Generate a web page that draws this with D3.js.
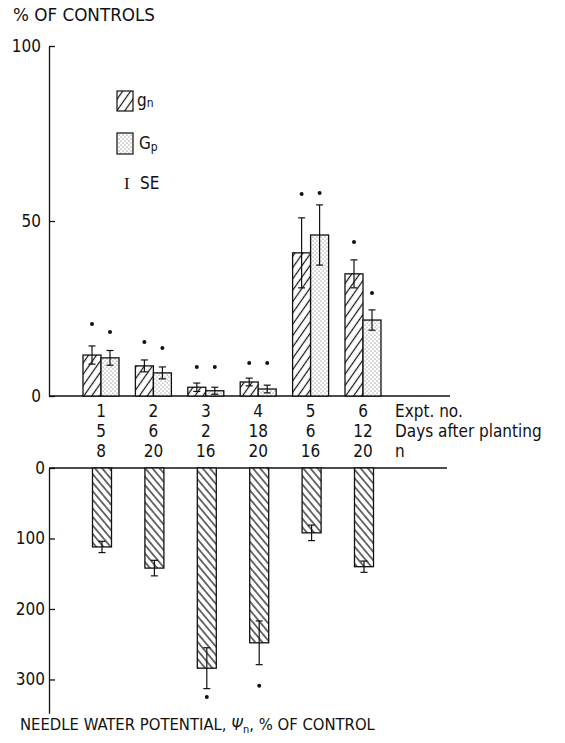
<!DOCTYPE html>
<html>
<head>
<meta charset="utf-8">
<script src="https://cdn.jsdelivr.net/npm/d3@7"></script>
<style>
body { margin: 0; background: #fff; }
text { font-family: "Liberation Sans Narrow", "DejaVu Sans Condensed", sans-serif; fill: #111; }
</style>
</head>
<body>
<div id="corpo"></div>
<script>
// table rows under the upper panel
var expt = ["1", "2", "3", "4", "5", "6"];
var days = ["5", "6", "2", "18", "6", "12"];
var nobs = ["8", "20", "16", "20", "16", "20"];
var rowNames = ["Expt. no.", "Days after planting", "n"];

// upper panel, % of controls
var gn = [11.7, 8.6, 2.5, 4.0, 40.9, 34.9];
var gnSE = [2.6, 1.7, 1.2, 1.1, 10.0, 4.0];
var Gp = [10.9, 6.6, 1.5, 2.0, 46.0, 21.7];
var GpSE = [2.1, 1.7, 1.0, 1.1, 8.6, 2.9];
var gnStar = [20.6, 15.4, 8.3, 9.4, 57.7, 44.0];
var GpStar = [18.3, 13.7, 8.3, 9.4, 58.0, 29.4];
var topTicks = [0, 50, 100];

// lower panel, needle water potential
var psi = [112, 142, 284, 248, 92, 140];
var psiSE = [8, 11, 29, 31, 11, 8];
var psiStar = [null, null, 325, 309, null, null];
var botTicks = [0, 100, 200, 300];

var width = 565, height = 743;

var svg = d3.select("#corpo").append("svg")
    .attr("width", width)
    .attr("height", height);

var defs = svg.append("defs");

function hatch(id, size, angle){
    var p = defs.append("pattern")
        .attr("id", id)
        .attr("patternUnits", "userSpaceOnUse")
        .attr("width", size).attr("height", size)
        .attr("patternTransform", "rotate(" + angle + ")");
    p.append("rect").attr("width", size).attr("height", size).attr("fill", "#fff");
    p.append("line")
        .attr("x1", size / 2).attr("y1", 0)
        .attr("x2", size / 2).attr("y2", size)
        .attr("stroke", "#111").attr("stroke-width", 1.2);
}
hatch("hatchUp", 6.5, 35);
hatch("hatchDown", 5.5, -40);

var dots = defs.append("pattern")
    .attr("id", "dots")
    .attr("patternUnits", "userSpaceOnUse")
    .attr("width", 4).attr("height", 4);
dots.append("rect").attr("width", 4).attr("height", 4).attr("fill", "#fff");
dots.append("circle").attr("cx", 1).attr("cy", 1).attr("r", 0.55).attr("fill", "#555");
dots.append("circle").attr("cx", 3).attr("cy", 3).attr("r", 0.55).attr("fill", "#555");

var x = d3.scalePoint().domain(expt).range([101, 363]);
var barW = 18;

var yTop = d3.scaleLinear().domain([0, 100]).range([396, 46]);
var yBot = d3.scaleLinear().domain([0, 348]).range([468, 713.3]);

// axes, ticks pointing inwards
svg.append("g")
    .attr("transform", "translate(49,0)")
    .call(d3.axisLeft(yTop).tickValues(topTicks).tickSize(-6).tickSizeOuter(0).tickPadding(8))
    .call(styleAxis);

svg.append("g")
    .attr("transform", "translate(49,0)")
    .call(d3.axisLeft(yBot).tickValues(botTicks).tickSize(-6).tickSizeOuter(0).tickPadding(4))
    .call(styleAxis);

function styleAxis(g){
    g.selectAll("path, line").attr("stroke", "#111").attr("stroke-width", 1.3);
    g.selectAll("text")
        .style("font-size", "17px")
        .style("font-family", "'Liberation Sans Narrow', 'DejaVu Sans Condensed', sans-serif")
        .attr("fill", "#111");
}

// baselines
svg.append("line")
    .attr("x1", 49).attr("x2", 450)
    .attr("y1", yTop(0)).attr("y2", yTop(0))
    .attr("stroke", "#111").attr("stroke-width", 1.3);
svg.append("line")
    .attr("x1", 49).attr("x2", 447)
    .attr("y1", yBot(0)).attr("y2", yBot(0))
    .attr("stroke", "#111").attr("stroke-width", 1.3);

function errBar(g, cx, y1, y2){
    g.append("line").attr("x1", cx).attr("x2", cx).attr("y1", y1).attr("y2", y2)
        .attr("stroke", "#111").attr("stroke-width", 1.2);
    [y1, y2].forEach(function(yy){
        g.append("line").attr("x1", cx - 3.5).attr("x2", cx + 3.5).attr("y1", yy).attr("y2", yy)
            .attr("stroke", "#111").attr("stroke-width", 1.2);
    });
}

// upper bars
function bars(values, errs, stars, dx, fill){
    var g = svg.append("g");
    values.forEach(function(v, i){
        var cx = x(expt[i]) + dx;
        g.append("rect")
            .attr("x", cx - barW / 2).attr("y", yTop(v))
            .attr("width", barW).attr("height", yTop(0) - yTop(v))
            .attr("fill", fill).attr("stroke", "#111").attr("stroke-width", 1.3);
        errBar(g, cx, yTop(v - errs[i]), yTop(v + errs[i]));
        if (stars[i] != null) {
            g.append("circle").attr("cx", cx).attr("cy", yTop(stars[i])).attr("r", 2).attr("fill", "#111");
        }
    });
}

bars(gn, gnSE, gnStar, -barW / 2, "url(#hatchUp)");
bars(Gp, GpSE, GpStar, barW / 2, "url(#dots)");

// lower bars
var gb = svg.append("g");
psi.forEach(function(v, i){
    var cx = x(expt[i]) + 1;
    gb.append("rect")
        .attr("x", cx - 9.5).attr("y", yBot(0))
        .attr("width", 19).attr("height", yBot(v) - yBot(0))
        .attr("fill", "url(#hatchDown)").attr("stroke", "#111").attr("stroke-width", 1.3);
    errBar(gb, cx, yBot(v - psiSE[i]), yBot(v + psiSE[i]));
    if (psiStar[i] != null) {
        gb.append("circle").attr("cx", cx).attr("cy", yBot(psiStar[i])).attr("r", 2).attr("fill", "#111");
    }
});

// table rows between the panels
var rows = [expt, days, nobs];
rows.forEach(function(r, j){
    var yy = 417 + j * 20;
    svg.append("g").selectAll("text")
        .data(r).enter().append("text")
        .attr("x", function(d, i){ return x(expt[i]); })
        .attr("y", yy)
        .attr("text-anchor", "middle")
        .style("font-size", "17px")
        .text(function(d){ return d; });
    svg.append("text")
        .attr("x", 395).attr("y", yy)
        .style("font-size", "17px")
        .text(rowNames[j]);
});

// legend
svg.append("rect").attr("x", 117).attr("y", 91).attr("width", 16).attr("height", 20)
    .attr("fill", "url(#hatchUp)").attr("stroke", "#111").attr("stroke-width", 1.2);
svg.append("text").attr("x", 137).attr("y", 106).style("font-size", "17px")
    .html("g<tspan font-size='12px' dy='1'>n</tspan>");
svg.append("rect").attr("x", 117).attr("y", 133).attr("width", 16).attr("height", 21)
    .attr("fill", "url(#dots)").attr("stroke", "#111").attr("stroke-width", 1.2);
svg.append("text").attr("x", 139).attr("y", 149).style("font-size", "17px")
    .html("G<tspan font-size='12px' dy='2'>p</tspan>");
svg.append("text").attr("x", 124).attr("y", 189).style("font-size", "17px")
    .style("font-family", "'Liberation Serif', serif").text("I");
svg.append("text").attr("x", 140).attr("y", 189).style("font-size", "17px").text("SE");

// titles
svg.append("text").attr("x", 13).attr("y", 21)
    .style("font-size", "18px")
    .attr("textLength", 142).attr("lengthAdjust", "spacingAndGlyphs")
    .text("% OF CONTROLS");

svg.append("text").attr("x", 20).attr("y", 730)
    .style("font-size", "16.5px")
    .html("NEEDLE WATER POTENTIAL, <tspan font-style='italic'>Ψ</tspan><tspan font-size='11px' dy='3'>n</tspan><tspan dy='-3'>, % OF CONTROL</tspan>");
</script>
</body>
</html>
